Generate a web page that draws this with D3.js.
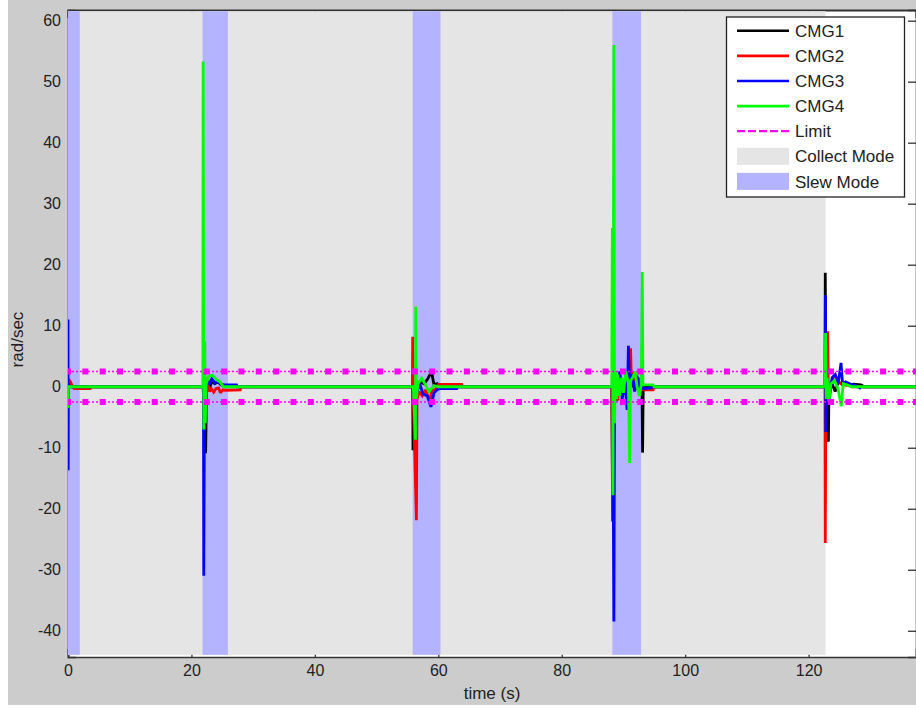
<!DOCTYPE html>
<html><head><meta charset="utf-8">
<script src="https://cdn.jsdelivr.net/npm/d3@7"></script>
<style>
body{margin:0;background:#fff;}
svg text{font-family:Arial,"Liberation Sans",Helvetica,sans-serif;fill:#222;}
</style></head>
<body><svg id="chart" width="916" height="709"></svg>
<script>
// ---------------- data ----------------
const xDomain = [0, 137.4];
const yDomain = [-44.3, 61.75];
const xTicks = [0, 20, 40, 60, 80, 100, 120];
const yTicks = [-40, -30, -20, -10, 0, 10, 20, 30, 40, 50, 60];
const limitValue = 2.5;
const limitMarkerTimes = [0, 2.81, 5.62, 8.43, 11.24, 14.05, 16.86, 19.67, 22.48, 25.29, 28.1, 30.91, 33.72, 36.53, 39.34, 42.15, 44.96, 47.77, 50.58, 53.39, 56.2, 59.01, 61.82, 64.63, 67.44, 70.25, 73.06, 75.87, 78.68, 81.49, 84.3, 87.11, 89.92, 92.73, 95.54, 98.35, 101.16, 103.97, 106.78, 109.59, 112.4, 115.21, 118.02, 120.83, 123.64, 126.45, 129.26, 132.07, 134.88, 137.4];
const collectMode = [[0, 122.75]];
const slewMode = [[0, 1.9], [21.8, 25.9], [55.85, 60.35], [88.2, 92.85]];

const cmg1Time = [0, 0.1, 0.3, 0.6, 21.9, 22.0, 22.3, 22.45, 22.8, 23.3, 23.8, 24.3, 24.8, 25.5, 55.85, 55.9, 56.0, 56.5, 57.0, 57.7, 58.3, 58.9, 59.3, 59.8, 60.4, 88.1, 88.25, 88.35, 88.7, 89.0, 89.4, 89.8, 90.2, 90.7, 91.2, 91.6, 92.0, 92.5, 93.0, 93.1, 93.2, 93.6, 122.65, 122.7, 122.75, 123.2, 123.3, 123.8, 124.3, 124.8, 125.4, 126.0, 126.6, 127.2, 128.5, 129.0, 137.4];
const cmg1Vals = [0, 0.8, 0.3, 0, 0, -3, -10.9, 0.5, -0.5, 0.8, 0.5, 0.8, 0.3, 0, 0, -10.4, -1, 0.5, 0.8, 0.5, 1.3, 2.5, 0.3, 0.5, 0, 0, -22.1, -5, 1.5, 0.5, 1.8, -1, 1, -0.5, 1.2, 0, 0.8, -0.5, 0, -10.8, -0.3, 0, 0, 18.7, 2, -9, -1, 0.5, -0.8, 0.8, 0.4, 0.6, 0.2, 0.4, 0.3, 0, 0];

const cmg2Time = [0, 0.05, 0.4, 0.75, 1.0, 3.6, 3.7, 22.0, 22.2, 22.6, 22.9, 23.2, 23.6, 24.0, 24.4, 24.7, 25.1, 25.5, 27.9, 28.0, 55.8, 55.85, 55.95, 56.45, 56.55, 56.9, 57.4, 57.9, 58.6, 59.0, 59.5, 60.0, 63.8, 63.9, 88.15, 88.25, 88.35, 88.5, 88.7, 88.9, 89.1, 89.3, 89.6, 90.0, 90.4, 90.8, 91.15, 91.3, 91.6, 92.0, 92.4, 92.8, 93.2, 94.8, 94.9, 122.65, 122.7, 122.8, 123.1, 123.2, 123.6, 124.0, 124.4, 124.8, 125.3, 125.8, 126.5, 127.0, 137.4];
const cmg2Vals = [0, 1.3, 0.8, 0, -0.3, -0.3, 0, 0, -4, 1.5, -0.8, -0.3, -0.9, -0.3, -0.2, -1, -0.5, -0.6, -0.5, 0, 0, 8.2, -1, -21.9, -2, -0.8, -1.5, -0.5, -2.3, -0.5, -0.5, 0.4, 0.4, 0, 0, -22, -19, -3, 2.5, -2, -2.2, 1.5, -0.8, 0.8, -1, 2, 6.3, 0.5, 2.5, -0.5, 1.5, -0.3, -0.5, -0.5, 0, 0, -25.6, 0, 9.1, -1, 0.5, 1.5, 1.8, 0.8, 0.5, 0.3, 0.2, 0, 0];

const cmg3Time = [0, 0.03, 0.06, 0.2, 21.95, 22.0, 22.1, 22.3, 22.5, 22.9, 23.3, 23.8, 24.3, 24.8, 25.3, 27.3, 27.4, 56.0, 56.35, 56.5, 57.0, 57.5, 58.2, 58.8, 59.3, 59.8, 60.3, 63.0, 63.1, 88.2, 88.3, 88.45, 88.55, 88.8, 89.1, 89.4, 89.8, 90.2, 90.6, 90.8, 91.0, 91.4, 91.8, 92.2, 92.6, 92.9, 93.2, 94.5, 94.6, 122.7, 122.72, 122.78, 122.9, 123.3, 123.8, 124.3, 124.8, 125.25, 125.5, 126.0, 126.8, 127.6, 128.3, 128.5, 137.4];
const cmg3Vals = [11, -13.7, 0.5, 0, 0, -31, -4, -3.3, 1, 0.5, 1.3, 0.6, 0.9, 0.4, 0.3, 0.3, 0, 0, -6.5, -1, 0.5, -1.2, -1.5, -3.3, -1, -0.5, -0.3, -0.3, 0, 0, -6, -38.5, -3, 1, -1.5, 2.5, -2, 1, -3.8, 6.7, 0, 2, -0.8, 1.8, -1.5, 0.5, -0.3, -0.2, 0, 0, 15, -7.4, -1, -2.5, 1.5, 2, 0.5, 3.9, 0.5, 0.8, 0.4, 0.2, -0.2, 0, 0];

const cmg4Time = [0, 0.02, 0.05, 21.85, 21.9, 22.0, 22.15, 22.25, 22.4, 22.8, 23.4, 24.0, 24.6, 25.2, 55.95, 56.3, 56.35, 56.45, 56.7, 57.3, 57.8, 58.5, 59.3, 60.0, 88.1, 88.2, 88.3, 88.45, 88.55, 88.7, 88.9, 89.1, 89.4, 89.7, 90.0, 90.4, 90.8, 91.0, 91.15, 91.5, 91.9, 92.2, 92.6, 92.9, 93.05, 93.15, 94.8, 95.0, 122.65, 122.75, 122.85, 123.0, 123.3, 123.6, 124.2, 124.8, 125.3, 125.6, 126.2, 127.0, 137.4];
const cmg4Vals = [0, -3.5, 0, 0, 53.3, -7, 7.5, -6, 0.5, 1.8, 1.9, 1.2, 0.8, 0, 0, -8.7, 13.1, -2, 0.5, 1.4, 0.5, -0.8, 0.2, 0, 0, 26, -17.8, 56, -6, 2.5, -2, 2, -1.5, 1.5, -1, 2.5, 0.5, -12.5, 1, 1.5, 2.5, 0, -1.5, 0.5, 18.8, 0.3, 0.3, 0, 0, 8.8, -2, 1.5, -2.5, 0.5, 1, -0.5, -3.2, 0.5, 0.3, 0, 0];

const seriesNames = ["CMG1", "CMG2", "CMG3", "CMG4"];
const seriesColors = ["#000000", "#ff0000", "#0000ff", "#00ff00"];
const seriesTimes = [cmg1Time, cmg2Time, cmg3Time, cmg4Time];
const seriesVals = [cmg1Vals, cmg2Vals, cmg3Vals, cmg4Vals];

// ---------------- layout ----------------
const svg = d3.select("#chart");
const L = 68, T = 10, R = 916, B = 657;
const x = d3.scaleLinear().domain(xDomain).range([L, R]);
const y = d3.scaleLinear().domain(yDomain).range([B, T]);

// figure background
svg.append("rect").attr("x", 8).attr("y", 0).attr("width", 908).attr("height", 705).attr("fill", "#cccccc");
// axes background
svg.append("rect").attr("x", L).attr("y", T).attr("width", R - L).attr("height", B - T).attr("fill", "#ffffff");

// axes (bottom layer)
const axColor = "#333";
const fmt = d => String(d);
const gx = svg.append("g").attr("transform", `translate(0,${B})`)
  .call(d3.axisBottom(x).tickValues(xTicks).tickSize(-8).tickPadding(8).tickFormat(fmt));
const gxt = svg.append("g").attr("transform", `translate(0,${T})`)
  .call(d3.axisTop(x).tickValues(xTicks).tickSize(-8).tickFormat(""));
const gy = svg.append("g").attr("transform", `translate(${L},0)`)
  .call(d3.axisLeft(y).tickValues(yTicks).tickSize(-8).tickPadding(7).tickFormat(fmt));
const gyr = svg.append("g").attr("transform", `translate(${R},0)`)
  .call(d3.axisRight(y).tickValues(yTicks).tickSize(-8).tickFormat(""));
[gx, gxt, gy, gyr].forEach(g => {
  g.select(".domain").attr("stroke", axColor).attr("stroke-width", 1.6);
  g.selectAll(".tick line").attr("stroke", axColor).attr("stroke-width", 1.3);
  g.selectAll(".tick text").attr("font-size", 16).attr("fill", "#222")
    .attr("font-family", "Arial, 'Liberation Sans', sans-serif");
});
gxt.select(".domain").attr("stroke-width", 2.2);

// mode patches
const patchTop = T + 1.2, patchBot = B - 2.2;
svg.append("g").selectAll("rect").data(collectMode).join("rect")
  .attr("x", d => x(d[0])).attr("width", d => x(d[1]) - x(d[0]))
  .attr("y", patchTop).attr("height", patchBot - patchTop).attr("fill", "#e5e5e5");
svg.append("g").selectAll("rect").data(slewMode).join("rect")
  .attr("x", d => x(d[0])).attr("width", d => x(d[1]) - x(d[0]))
  .attr("y", patchTop).attr("height", patchBot - patchTop).attr("fill", "#b3b3ff");

// clip
svg.append("clipPath").attr("id", "clip").append("rect")
  .attr("x", L).attr("y", T).attr("width", R - L).attr("height", B - T);

// data lines
const line = d3.line().x(d => x(d[0])).y(d => y(d[1]));
const gLines = svg.append("g").attr("clip-path", "url(#clip)");
seriesNames.forEach((name, i) => {
  const pts = seriesTimes[i].map((t, k) => [t, seriesVals[i][k]]);
  gLines.append("path").datum(pts).attr("d", line)
    .attr("fill", "none").attr("stroke", seriesColors[i])
    .attr("stroke-width", 2.8).attr("stroke-linejoin", "miter").attr("stroke-miterlimit", 2);
});

// limit lines
const magenta = "#ff00ff";
[limitValue, -limitValue].forEach(v => {
  const pts = limitMarkerTimes.map(t => [t, v]);
  gLines.append("path").datum(pts).attr("d", line)
    .attr("fill", "none").attr("stroke", magenta).attr("stroke-width", 1.3)
    .attr("stroke-dasharray", "2,2");
  gLines.append("g").selectAll("rect").data(pts).join("rect")
    .attr("x", d => x(d[0]) - 3).attr("y", d => y(d[1]) - 3)
    .attr("width", 6).attr("height", 6).attr("fill", magenta);
});

// axis labels
svg.append("text").attr("x", (L + R) / 2).attr("y", 699).attr("text-anchor", "middle")
  .attr("font-size", 17).text("time (s)");
svg.append("text").attr("transform", `translate(23,${(T + B) / 2 + 6}) rotate(-90)`)
  .attr("text-anchor", "middle").attr("font-size", 17).text("rad/sec");

// legend
const lg = svg.append("g");
lg.append("rect").attr("x", 726.5).attr("y", 17).attr("width", 178).attr("height", 180)
  .attr("fill", "#fff").attr("stroke", "#222").attr("stroke-width", 1.3);
const legendItems = seriesNames.map((n, i) => ({label: n, type: "line", color: seriesColors[i]}))
  .concat([{label: "Limit", type: "dash", color: magenta},
           {label: "Collect Mode", type: "patch", color: "#e5e5e5"},
           {label: "Slew Mode", type: "patch", color: "#b3b3ff"}]);
legendItems.forEach((it, i) => {
  const cy = 30.8 + i * 25.1;
  if (it.type === "patch") {
    lg.append("rect").attr("x", 737).attr("y", cy - 8.5).attr("width", 52).attr("height", 17).attr("fill", it.color);
  } else {
    lg.append("line").attr("x1", 737).attr("x2", 789).attr("y1", cy).attr("y2", cy)
      .attr("stroke", it.color).attr("stroke-width", it.type === "dash" ? 2.2 : 2.6)
      .attr("stroke-dasharray", it.type === "dash" ? "8,3" : null);
  }
  lg.append("text").attr("x", 795).attr("y", cy).attr("dy", "0.36em")
    .attr("font-size", 17).text(it.label);
});
</script></body></html>
